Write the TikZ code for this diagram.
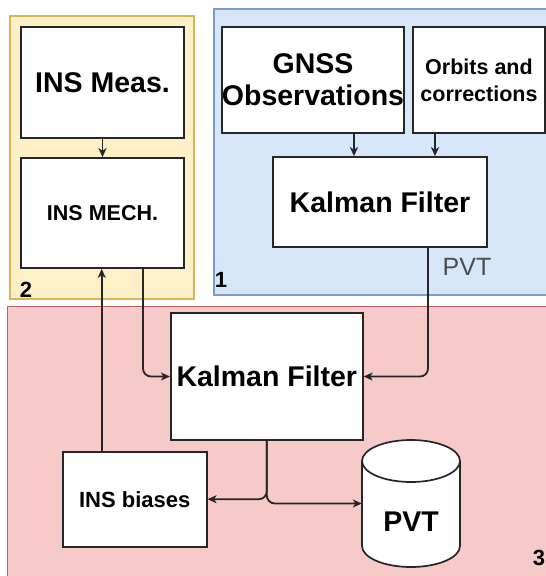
\documentclass[tikz,border=0pt]{standalone}
\usepackage{fontspec}
\setmainfont{Liberation Sans}
\usetikzlibrary{arrows.meta}

\definecolor{yelfill}{HTML}{FDEFC6}
\definecolor{yelline}{HTML}{D6B656}
\definecolor{bluefill}{HTML}{D8E6FA}
\definecolor{blueline}{HTML}{7C9CCB}
\definecolor{redfill}{HTML}{F7CACA}
\definecolor{redline}{HTML}{C0605C}
\definecolor{labelgray}{HTML}{4D4D4D}

\tikzset{
  region/.style={line width=1.2pt},
  box/.style={draw=black!85, fill=white, line width=1.7pt, inner sep=0pt, align=center},
  bigtxt/.style={font=\fontsize{28.5}{32}\selectfont\bfseries},
  smalltxt/.style={font=\fontsize{21.5}{27}\selectfont\bfseries},
  numtxt/.style={font=\fontsize{22}{24}\selectfont\bfseries, inner sep=0pt},
  conn/.style={draw=black!85, line width=1.8pt, rounded corners=8pt},
  arr/.style={conn, -{Stealth[length=9pt,width=8pt,inset=2.5pt]}},
}

\begin{document}
\begin{tikzpicture}[x=1pt,y=-1pt]
\useasboundingbox (0,0) rectangle (546,576);

% group backgrounds
\draw[region, fill=yelfill, draw=yelline] (10,16) rectangle (194,299);
\draw[region, fill=bluefill, draw=blueline] (214,9) rectangle (552,295);
\draw[region, fill=redfill, draw=redline] (7.7,306.5) rectangle (552,582);

% group numbers
\node[numtxt] (num1) at (221,280) {1};
\node[numtxt] (num2) at (26,290) {2};
\node[numtxt] (num3) at (539,558) {3};

% INS branch
\node[box, bigtxt, minimum width=163, minimum height=111] (insmeas) at (102.5,82.5) {INS Meas.};
\node[box, smalltxt, minimum width=163, minimum height=110] (insmech) at (102.5,213) {INS MECH.};

% GNSS branch
\node[box, bigtxt, minimum width=182, minimum height=106] (gnss) at (313,80) {GNSS\\Observations};
\node[box, smalltxt, minimum width=132, minimum height=106] (orbits) at (479,80) {Orbits and\\corrections};
\node[box, bigtxt, minimum width=214, minimum height=90] (kf1) at (380,202) {Kalman Filter};
\node[font=\fontsize{25}{28}\selectfont, text=labelgray, inner sep=0pt] (pvtlabel) at (467,266.5) {PVT};

% integration
\node[box, bigtxt, minimum width=192, minimum height=126.5] (kf2) at (266.8,376.5) {Kalman Filter};
\node[box, font=\fontsize{22}{26}\selectfont\bfseries, minimum width=144, minimum height=95] (biases) at (134.7,499.2) {INS biases};

% PVT store (cylinder)
\node[minimum width=98, minimum height=127, inner sep=0pt] (pvtdb) at (411,503.5) {};
\filldraw[fill=white, draw=black!85, line width=1.7pt]
  (362,461) -- (362,546)
  arc[start angle=180, end angle=360, x radius=49pt, y radius=21pt]
  -- (460,461)
  arc[start angle=0, end angle=180, x radius=49pt, y radius=21pt] -- cycle;
\draw[draw=black!85, line width=1.7pt]
  (362,461) arc[start angle=180, end angle=360, x radius=49pt, y radius=21pt];
\node[bigtxt, inner sep=0pt] (pvttxt) at (411,522) {PVT};

% connectors
\draw[arr] (insmeas.south) -- (insmech.north);
\draw[arr] (gnss.south -| 354,0) -- (354,0 |- kf1.north);
\draw[arr] (orbits.south -| 435,0) -- (435,0 |- kf1.north);
\draw[arr] ([xshift=40.5pt]insmech.south) |- (kf2.west);
\draw[arr] ([xshift=48pt]kf1.south) |- (kf2.east);
\draw[arr] ([xshift=-33pt]biases.north) -- ([xshift=-33pt]biases.north |- insmech.south);
\draw[arr] (kf2.south) |- (biases.east);
\draw[arr] (kf2.south) |- (pvtdb.west);
\end{tikzpicture}
\end{document}
